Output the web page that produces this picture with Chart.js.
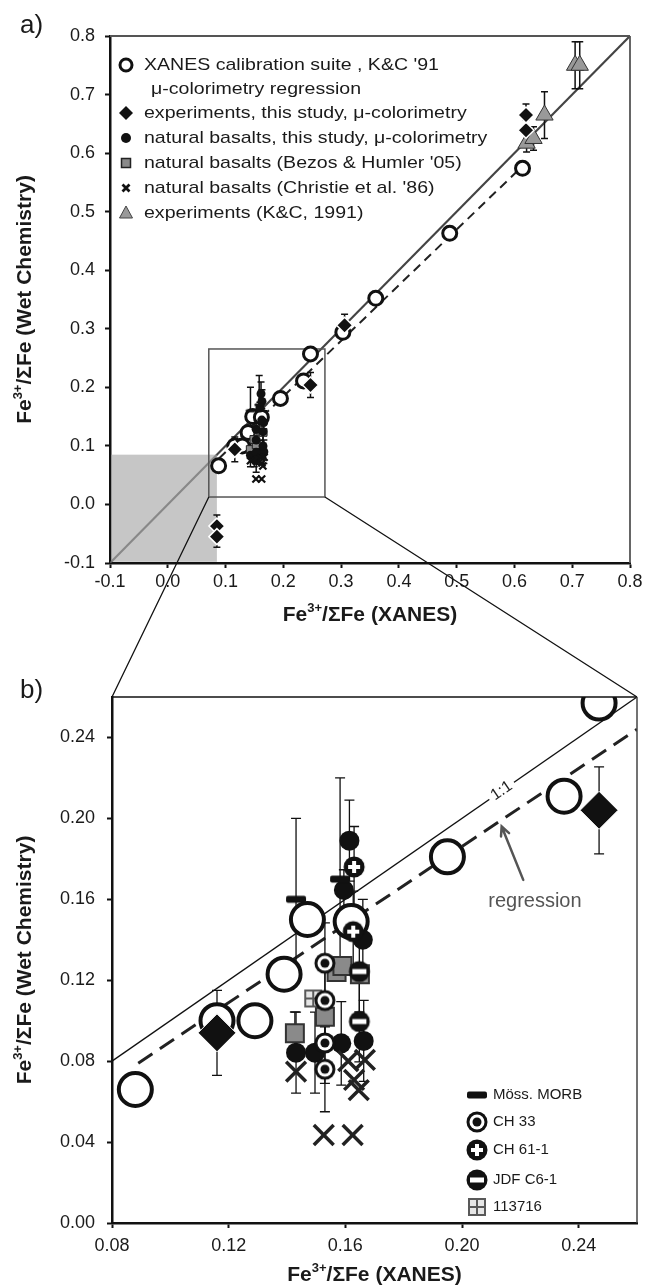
<!DOCTYPE html>
<html>
<head>
<meta charset="utf-8">
<title>Fe3+/ΣFe: XANES vs wet chemistry</title>
<script src="https://cdn.jsdelivr.net/npm/chart.js"></script>
<style>
  html, body { margin: 0; padding: 0; background: #fff; }
  body { position: relative; width: 648px; height: 1287px; overflow: hidden; font-family: "Liberation Sans", Arial, sans-serif; }
  canvas { position: absolute; left: 0; }
  #chartA { top: 0; }
  #chartB { top: 645px; }
  #links { top: 0; pointer-events: none; }
  .panel { position: absolute; left: 20px; font-size: 26px; line-height: 26px; color: #1a1a1a; }
</style>
</head>
<body>
<canvas id="chartA" width="648" height="645"></canvas>
<canvas id="chartB" width="648" height="642"></canvas>
<canvas id="links" width="648" height="1287"></canvas>
<div class="panel" style="top:11px">a)</div>
<div class="panel" style="top:676px">b)</div>
<script>
const FONT = '"Liberation Sans", Arial, Helvetica, sans-serif';

// tick values
const ticksA = [-0.1, 0, 0.1, 0.2, 0.3, 0.4, 0.5, 0.6, 0.7, 0.8];
const ticksBx = [0.08, 0.12, 0.16, 0.20, 0.24];
const ticksBy = [0, 0.04, 0.08, 0.12, 0.16, 0.20, 0.24];

// XANES calibration suite, K&C '91
const xanesX = [0.088, 0.116, 0.129, 0.139, 0.147, 0.162, 0.195, 0.235, 0.247, 0.303, 0.360, 0.488, 0.614];
const xanesY = [0.066, 0.100, 0.100, 0.123, 0.150, 0.149, 0.181, 0.211, 0.257, 0.294, 0.352, 0.463, 0.574];

// experiments, this study
const expX = [0.085, 0.085, 0.116, 0.247, 0.306, 0.620, 0.620];
const expY = [-0.037, -0.055, 0.094, 0.204, 0.306, 0.639, 0.665];
const expErr = [0.019, 0.018, 0.021, 0.0215, 0.019, 0.018, 0.019];

// natural basalts, this study
const natX = [0.1614, 0.1595, 0.166, 0.1431, 0.1496, 0.1586, 0.1663];
const natY = [0.189, 0.1646, 0.140, 0.0842, 0.0842, 0.0888, 0.0900];
const natErr = [0.02, 0.01, 0.02, 0.02, 0.02, 0.0206, 0.02];

// named samples (panel b)
const mossX = [0.1431, 0.1582];
const mossY = [0.160, 0.170];
const mossErr = [0.04, 0.05];
const ch33X = [0.153, 0.153, 0.153, 0.153];
const ch33Y = [0.1284, 0.110, 0.089, 0.076];
const ch33Err = [0.02, 0.02, 0.02, 0.021];
const ch61X = [0.163, 0.1627];
const ch61Y = [0.176, 0.144];
const ch61Err = [0.02, 0.02];
const jdfX = [0.1648, 0.1648];
const jdfY = [0.1243, 0.0996];
const jdfErr = [0.02, 0.02];
const s113716X = [0.149];
const s113716Y = [0.111];

// Bezos & Humler '05
const bezosX = [0.1427, 0.153, 0.157, 0.159, 0.165];
const bezosY = [0.0938, 0.102, 0.124, 0.127, 0.123];
const bezosErr = [0.0105, 0.01, 0, 0, 0];

// Christie et al. '86
const christieX = [0.1431, 0.161, 0.1667, 0.163, 0.1646, 0.1526, 0.1625];
const christieY = [0.0748, 0.080, 0.0806, 0.0707, 0.0657, 0.0435, 0.0435];

// experiments K&C 1991
const kcX = [0.621, 0.633, 0.652, 0.705, 0.713];
const kcY = [0.617, 0.625, 0.665, 0.750, 0.750];
const kcErr = [0.015, 0.02, 0.04, 0.04, 0.04];

// 1:1 and regression lines
const oneA = [-0.1, 0.8];
const oneB = [0.08, 0.26];
const regAX = [0.089, 0.61];
const regAY = [0.079, 0.574];
const regBX = [0.089, 0.26];
const regBY = [0.079, 0.244];

// zoom window shown in panel b, shaded corner of panel a
const zoomBoxX = [0.071, 0.272];
const zoomBoxY = [0.0127, 0.2655];
const shadeMax = 0.085;

const legendA = [
  ['xanes', "XANES calibration suite , K&C '91"],
  ['', 'μ-colorimetry regression'],
  ['exp', 'experiments, this study, μ-colorimetry'],
  ['nat', 'natural basalts, this study, μ-colorimetry'],
  ['bezos', "natural basalts (Bezos & Humler '05)"],
  ['christie', "natural basalts (Christie et al. '86)"],
  ['kc', 'experiments (K&C, 1991)']
];
const legendB = [
  ['moss', 'Möss. MORB'],
  ['ch33', 'CH 33'],
  ['ch61', 'CH 61-1'],
  ['jdf', 'JDF C6-1'],
  ['grid', '113716']
];

const xTitle = [['Fe', 0], ['3+', 1], ['/ΣFe (XANES)', 0]];
const yTitle = [['Fe', 0], ['3+', 1], ['/ΣFe (Wet Chemistry)', 0]];

function pts(xs, ys) { return xs.map((x, i) => ({ x: x, y: ys[i] })); }

// custom point images
function marker(kind, s) {
  const n = Math.ceil(26 * s) + 2;
  const c = document.createElement('canvas');
  c.width = n; c.height = n;
  const g = c.getContext('2d');
  g.translate(n / 2, n / 2);
  g.scale(s, s);
  const disc = (r, col) => { g.beginPath(); g.arc(0, 0, r, 0, Math.PI * 2); g.fillStyle = col; g.fill(); };
  if (kind === 'moss') {
    g.fillStyle = '#111';
    g.beginPath();
    if (g.roundRect) g.roundRect(-10, -3.5, 20, 7, 2); else g.rect(-10, -3.5, 20, 7);
    g.fill();
  } else if (kind === 'ch33') {
    disc(10.5, '#111'); disc(7.5, '#fff'); disc(4.5, '#111');
  } else if (kind === 'ch61') {
    disc(10.5, '#111');
    g.fillStyle = '#fff';
    g.fillRect(-6, -2, 12, 4); g.fillRect(-2, -6, 4, 12);
  } else if (kind === 'jdf') {
    disc(10.5, '#111');
    g.fillStyle = '#fff';
    g.fillRect(-7, -2.5, 14, 5);
  } else if (kind === 'grid') {
    g.fillStyle = '#595959'; g.fillRect(-9, -9, 18, 18);
    g.fillStyle = '#e6e6e6';
    [[-7, -7], [1, -7], [-7, 1], [1, 1]].forEach(p => g.fillRect(p[0], p[1], 6, 6));
  }
  return c;
}
const imgB = { moss: marker('moss', 1), ch33: marker('ch33', 1), ch61: marker('ch61', 1), jdf: marker('jdf', 1), grid: marker('grid', 1) };
const mossSmall = marker('moss', 0.45);

function drawSup(ctx, parts, cx, base, size) {
  const big = 'bold ' + size + 'px ' + FONT;
  const small = 'bold ' + Math.round(size * 0.62) + 'px ' + FONT;
  let w = 0;
  parts.forEach(p => { ctx.font = p[1] ? small : big; w += ctx.measureText(p[0]).width; });
  let x = cx - w / 2;
  ctx.textAlign = 'left';
  ctx.textBaseline = 'alphabetic';
  parts.forEach(p => {
    ctx.font = p[1] ? small : big;
    ctx.fillText(p[0], x, base - (p[1] ? size * 0.42 : 0));
    x += ctx.measureText(p[0]).width;
  });
}

function drawSymbol(ctx, kind, x, y) {
  ctx.save();
  if (kind === 'xanes') {
    ctx.beginPath(); ctx.arc(x, y, 6, 0, Math.PI * 2);
    ctx.fillStyle = '#fff'; ctx.fill();
    ctx.lineWidth = 3; ctx.strokeStyle = '#111'; ctx.stroke();
  } else if (kind === 'exp') {
    ctx.beginPath();
    ctx.moveTo(x - 7, y); ctx.lineTo(x, y - 7); ctx.lineTo(x + 7, y); ctx.lineTo(x, y + 7); ctx.closePath();
    ctx.fillStyle = '#111'; ctx.fill();
  } else if (kind === 'nat') {
    ctx.beginPath(); ctx.arc(x, y, 5, 0, Math.PI * 2);
    ctx.fillStyle = '#111'; ctx.fill();
  } else if (kind === 'bezos') {
    ctx.fillStyle = '#8a8a8a'; ctx.fillRect(x - 4.5, y - 4.5, 9, 9);
    ctx.lineWidth = 1.5; ctx.strokeStyle = '#222'; ctx.strokeRect(x - 4.5, y - 4.5, 9, 9);
  } else if (kind === 'christie') {
    ctx.lineWidth = 2.8; ctx.strokeStyle = '#111';
    ctx.beginPath();
    ctx.moveTo(x - 3.5, y - 3.5); ctx.lineTo(x + 3.5, y + 3.5);
    ctx.moveTo(x + 3.5, y - 3.5); ctx.lineTo(x - 3.5, y + 3.5);
    ctx.stroke();
  } else if (kind === 'kc') {
    ctx.beginPath();
    ctx.moveTo(x, y - 7); ctx.lineTo(x + 6.5, y + 5); ctx.lineTo(x - 6.5, y + 5); ctx.closePath();
    ctx.fillStyle = '#999'; ctx.fill();
    ctx.lineWidth = 1; ctx.strokeStyle = '#444'; ctx.stroke();
  }
  ctx.restore();
}

// error bars, drawn right after the two reference lines
const errorBars = {
  id: 'errorBars',
  afterDatasetDraw(chart, args, o) {
    if (args.index !== 1) return;
    const ctx = chart.ctx, a = chart.chartArea, sx = chart.scales.x, sy = chart.scales.y;
    ctx.save();
    ctx.beginPath(); ctx.rect(a.left, a.top, a.right - a.left, a.bottom - a.top); ctx.clip();
    ctx.strokeStyle = o.color; ctx.lineWidth = o.width;
    chart.data.datasets.forEach(ds => {
      if (!ds.err) return;
      ds.data.forEach((p, i) => {
        const e = ds.err[i];
        if (!e) return;
        const x = sx.getPixelForValue(p.x);
        const y1 = sy.getPixelForValue(p.y - e), y2 = sy.getPixelForValue(p.y + e);
        ctx.beginPath();
        ctx.moveTo(x, y1); ctx.lineTo(x, y2);
        ctx.moveTo(x - o.cap, y1); ctx.lineTo(x + o.cap, y1);
        ctx.moveTo(x - o.cap, y2); ctx.lineTo(x + o.cap, y2);
        ctx.stroke();
      });
    });
    ctx.restore();
  }
};

const axisTitles = {
  id: 'axisTitles',
  afterDraw(chart, args, o) {
    const ctx = chart.ctx, a = chart.chartArea;
    ctx.save();
    ctx.fillStyle = '#1a1a1a';
    drawSup(ctx, xTitle, (a.left + a.right) / 2, o.xBase, o.size);
    ctx.translate(o.yBase, (a.top + a.bottom) / 2);
    ctx.rotate(-Math.PI / 2);
    drawSup(ctx, yTitle, 0, 0, o.size);
    ctx.restore();
  }
};

const frame = {
  id: 'frame',
  afterDatasetsDraw(chart, args, o) {
    const a = chart.chartArea, ctx = chart.ctx;
    ctx.save();
    ctx.lineWidth = o.width;
    ctx.strokeStyle = o.top;
    ctx.beginPath(); ctx.moveTo(a.left, a.top); ctx.lineTo(a.right, a.top); ctx.stroke();
    ctx.strokeStyle = o.right;
    ctx.beginPath(); ctx.moveTo(a.right, a.top); ctx.lineTo(a.right, a.bottom); ctx.stroke();
    ctx.restore();
  }
};

Chart.register(errorBars, axisTitles, frame);

function linAxis(min, max, ticks, digits, fit, horizontal, pad) {
  return {
    type: 'linear', min: min, max: max,
    afterBuildTicks: s => { s.ticks = ticks.map(v => ({ value: v })); },
    afterFit: s => {
      if (horizontal) s.height = fit; else s.width = fit;
      // let the layout padding alone decide the plot edges
      s.paddingLeft = 0; s.paddingRight = 0; s.paddingTop = 0; s.paddingBottom = 0;
    },
    grid: { display: true, drawOnChartArea: false, drawTicks: true, tickLength: 5, tickWidth: 2, tickColor: '#111' },
    border: { display: true, color: '#111', width: 2.5 },
    ticks: {
      color: '#1a1a1a', font: { family: FONT, size: 18 }, padding: pad,
      maxRotation: 0, autoSkip: false,
      callback: v => Number(v).toFixed(digits)
    }
  };
}

function stack(list) {
  // first entry is painted first (at the bottom)
  list.forEach((d, i) => { d.order = list.length - i; d.clip = 0; });
  return list;
}

// ---------- panel a ----------
const dsA = stack([
  { label: '1:1', data: pts(oneA, oneA), showLine: true, borderColor: '#444', borderWidth: 2.2, pointRadius: 0 },
  { label: 'regression', data: pts(regAX, regAY), showLine: true, borderColor: '#222', borderWidth: 2, borderDash: [9, 6], pointRadius: 0 },
  { label: 'XANES', data: pts(xanesX, xanesY), pointStyle: 'circle', pointRadius: 7, pointBorderWidth: 3, pointBackgroundColor: '#fff', pointBorderColor: '#111' },
  { label: 'K&C 1991', data: pts(kcX, kcY), err: kcErr, pointStyle: 'triangle', pointRadius: 10, pointBorderWidth: 1, pointBackgroundColor: '#999', pointBorderColor: '#333' },
  { label: 'Bezos', data: pts(bezosX, bezosY), err: bezosErr, pointStyle: 'rect', pointRadius: 5.5, pointBorderWidth: 1, pointBackgroundColor: '#8a8a8a', pointBorderColor: '#222' },
  { label: '113716', data: pts(s113716X, s113716Y), pointStyle: 'rect', pointRadius: 5.5, pointBorderWidth: 1, pointBackgroundColor: '#8a8a8a', pointBorderColor: '#222' },
  { label: 'natural', data: pts(natX, natY), err: natErr, pointStyle: 'circle', pointRadius: 4.5, pointBorderWidth: 0, pointBackgroundColor: '#111' },
  { label: 'CH 33', data: pts(ch33X, ch33Y), err: ch33Err, pointStyle: 'circle', pointRadius: 4.5, pointBorderWidth: 0, pointBackgroundColor: '#111' },
  { label: 'CH 61-1', data: pts(ch61X, ch61Y), err: ch61Err, pointStyle: 'circle', pointRadius: 4.5, pointBorderWidth: 0, pointBackgroundColor: '#111' },
  { label: 'JDF C6-1', data: pts(jdfX, jdfY), err: jdfErr, pointStyle: 'circle', pointRadius: 4.5, pointBorderWidth: 0, pointBackgroundColor: '#111' },
  { label: 'Möss', data: pts(mossX, mossY), err: mossErr, pointStyle: mossSmall },
  { label: 'Christie', data: pts(christieX, christieY), pointStyle: 'crossRot', pointRadius: 5, pointBorderWidth: 2.2, pointBorderColor: '#111' },
  { label: 'experiments', data: pts(expX, expY), err: expErr, pointStyle: 'rectRot', pointRadius: 8, pointBorderWidth: 1.5, pointBackgroundColor: '#111', pointBorderColor: '#fff' }
]);

const decorA = {
  id: 'decorA',
  afterDatasetDraw(chart, args) {
    if (args.index !== 0) return;
    const ctx = chart.ctx, sx = chart.scales.x, sy = chart.scales.y;
    const x0 = sx.getPixelForValue(sx.min) + 1.2, x1 = sx.getPixelForValue(shadeMax);
    const y0 = sy.getPixelForValue(sy.min) - 1.2, y1 = sy.getPixelForValue(shadeMax);
    ctx.save();
    ctx.fillStyle = 'rgba(170,170,170,0.67)';
    ctx.fillRect(x0, y1, x1 - x0, y0 - y1);
    const bx0 = sx.getPixelForValue(zoomBoxX[0]), bx1 = sx.getPixelForValue(zoomBoxX[1]);
    const by0 = sy.getPixelForValue(zoomBoxY[0]), by1 = sy.getPixelForValue(zoomBoxY[1]);
    ctx.strokeStyle = '#555'; ctx.lineWidth = 1.5;
    ctx.strokeRect(bx0, by1, bx1 - bx0, by0 - by1);
    ctx.restore();
  },
  afterDraw(chart) {
    const ctx = chart.ctx;
    const rows = [65, 89, 113, 138, 163, 188, 213];
    ctx.save();
    ctx.fillStyle = '#1a1a1a';
    ctx.font = '17px ' + FONT;
    ctx.textAlign = 'left';
    ctx.textBaseline = 'middle';
    legendA.forEach((item, i) => {
      if (item[0]) drawSymbol(ctx, item[0], 126, rows[i]);
      const tx = item[0] ? 144 : 151;
      ctx.save();
      ctx.translate(tx, rows[i]);
      ctx.scale(1.15, 1);
      ctx.fillText(item[1], 0, 0);
      ctx.restore();
    });
    ctx.restore();
  }
};

const chartA = new Chart(document.getElementById('chartA'), {
  type: 'scatter',
  data: { datasets: dsA },
  options: {
    responsive: false, animation: false, events: [],
    layout: { autoPadding: false, padding: { top: 36, right: 18, left: 0, bottom: 0 } },
    plugins: {
      legend: { display: false }, tooltip: { enabled: false },
      errorBars: { color: '#111', width: 1.5, cap: 3.5 },
      axisTitles: { size: 21, xBase: 621, yBase: 31 },
      frame: { width: 1.8, top: '#555', right: '#555' }
    },
    scales: {
      x: linAxis(-0.1, 0.8, ticksA, 1, 82, true, 3),
      y: linAxis(-0.1, 0.8, ticksA, 1, 110, false, 10)
    }
  },
  plugins: [decorA]
});

// ---------- panel b ----------
const dsB = stack([
  { label: '1:1', data: pts(oneB, oneB), showLine: true, borderColor: '#111', borderWidth: 1.3, pointRadius: 0 },
  { label: 'regression', data: pts(regBX, regBY), showLine: true, borderColor: '#222', borderWidth: 3, borderDash: [17, 9], pointRadius: 0 },
  { label: 'XANES', data: pts(xanesX, xanesY), pointStyle: 'circle', pointRadius: 16.5, pointBorderWidth: 4, pointBackgroundColor: '#fff', pointBorderColor: '#111' },
  { label: 'Bezos', data: pts(bezosX, bezosY), err: bezosErr, pointStyle: 'rect', pointRadius: 12.7, pointBorderWidth: 2, pointBackgroundColor: '#8a8a8a', pointBorderColor: '#333' },
  { label: '113716', data: pts(s113716X, s113716Y), pointStyle: imgB.grid },
  { label: 'natural', data: pts(natX, natY), err: natErr, pointStyle: 'circle', pointRadius: 10, pointBorderWidth: 0, pointBackgroundColor: '#111' },
  { label: 'Christie', data: pts(christieX, christieY), pointStyle: 'crossRot', pointRadius: 14, pointBorderWidth: 3.5, pointBorderColor: '#222' },
  { label: 'CH 33', data: pts(ch33X, ch33Y), err: ch33Err, pointStyle: imgB.ch33 },
  { label: 'CH 61-1', data: pts(ch61X, ch61Y), err: ch61Err, pointStyle: imgB.ch61 },
  { label: 'JDF C6-1', data: pts(jdfX, jdfY), err: jdfErr, pointStyle: imgB.jdf },
  { label: 'Möss', data: pts(mossX, mossY), err: mossErr, pointStyle: imgB.moss },
  { label: 'experiments', data: pts(expX, expY), err: expErr, pointStyle: 'rectRot', pointRadius: 19, pointBorderWidth: 1, pointBackgroundColor: '#111', pointBorderColor: '#fff' }
]);

const decorB = {
  id: 'decorB',
  afterDatasetDraw(chart, args) {
    if (args.index !== 1) return;
    // "1:1" label sitting in a gap of the solid line
    const ctx = chart.ctx, sx = chart.scales.x, sy = chart.scales.y;
    const p1 = [sx.getPixelForValue(oneB[0]), sy.getPixelForValue(oneB[0])];
    const p2 = [sx.getPixelForValue(oneB[1]), sy.getPixelForValue(oneB[1])];
    const ang = Math.atan2(p2[1] - p1[1], p2[0] - p1[0]);
    const v = 0.2136;
    ctx.save();
    ctx.translate(sx.getPixelForValue(v), sy.getPixelForValue(v));
    ctx.rotate(ang);
    ctx.fillStyle = '#fff';
    ctx.fillRect(-15, -6, 30, 12);
    ctx.fillStyle = '#222';
    ctx.font = '16px ' + FONT;
    ctx.textAlign = 'center';
    ctx.textBaseline = 'middle';
    ctx.fillText('1:1', 0, 0);
    ctx.restore();
  },
  afterDatasetsDraw(chart) {
    const ctx = chart.ctx, sx = chart.scales.x, sy = chart.scales.y;
    const tail = [sx.getPixelForValue(0.221), sy.getPixelForValue(0.1696)];
    const tip = [sx.getPixelForValue(0.2136), sy.getPixelForValue(0.196)];
    const ang = Math.atan2(tip[1] - tail[1], tip[0] - tail[0]);
    ctx.save();
    ctx.strokeStyle = '#555'; ctx.lineWidth = 2.5; ctx.lineCap = 'round';
    ctx.beginPath();
    ctx.moveTo(tail[0], tail[1]); ctx.lineTo(tip[0], tip[1]);
    ctx.moveTo(tip[0] + 10 * Math.cos(ang + Math.PI - 0.45), tip[1] + 10 * Math.sin(ang + Math.PI - 0.45));
    ctx.lineTo(tip[0], tip[1]);
    ctx.lineTo(tip[0] + 10 * Math.cos(ang + Math.PI + 0.45), tip[1] + 10 * Math.sin(ang + Math.PI + 0.45));
    ctx.stroke();
    ctx.fillStyle = '#555';
    ctx.font = '20px ' + FONT;
    ctx.textAlign = 'center';
    ctx.textBaseline = 'middle';
    ctx.fillText('regression', sx.getPixelForValue(0.225), sy.getPixelForValue(0.1588));
    ctx.restore();
  },
  afterDraw(chart) {
    const ctx = chart.ctx;
    const rows = [450, 477, 505, 535, 562];
    ctx.save();
    ctx.fillStyle = '#1a1a1a';
    ctx.font = '15px ' + FONT;
    ctx.textAlign = 'left';
    ctx.textBaseline = 'middle';
    legendB.forEach((item, i) => {
      const im = imgB[item[0]];
      ctx.drawImage(im, 477 - im.width / 2, rows[i] - im.height / 2);
      ctx.fillText(item[1], 493, rows[i]);
    });
    ctx.restore();
  }
};

const chartB = new Chart(document.getElementById('chartB'), {
  type: 'scatter',
  data: { datasets: dsB },
  options: {
    responsive: false, animation: false, events: [],
    layout: { autoPadding: false, padding: { top: 52, right: 11, left: 0, bottom: 0 } },
    plugins: {
      legend: { display: false }, tooltip: { enabled: false },
      errorBars: { color: '#111', width: 1.3, cap: 5 },
      axisTitles: { size: 21, xBase: 636, yBase: 31 },
      frame: { width: 1.5, top: '#111', right: '#444' }
    },
    scales: {
      x: linAxis(0.08, 0.26, ticksBx, 2, 64, true, 7),
      y: linAxis(0, 0.26, ticksBy, 2, 112, false, 12)
    }
  },
  plugins: [decorB]
});

// lines linking the zoom window of panel a to panel b
const topB = 645;
const lk = document.getElementById('links').getContext('2d');
const ax = chartA.scales.x, ay = chartA.scales.y, bx = chartB.scales.x, by = chartB.scales.y;
lk.strokeStyle = '#111';
lk.lineWidth = 1.3;
lk.beginPath();
lk.moveTo(ax.getPixelForValue(zoomBoxX[0]), ay.getPixelForValue(zoomBoxY[0]));
lk.lineTo(bx.getPixelForValue(bx.min), topB + by.getPixelForValue(by.max));
lk.moveTo(ax.getPixelForValue(zoomBoxX[1]), ay.getPixelForValue(zoomBoxY[0]));
lk.lineTo(bx.getPixelForValue(bx.max), topB + by.getPixelForValue(by.max));
lk.stroke();
</script>
</body>
</html>
